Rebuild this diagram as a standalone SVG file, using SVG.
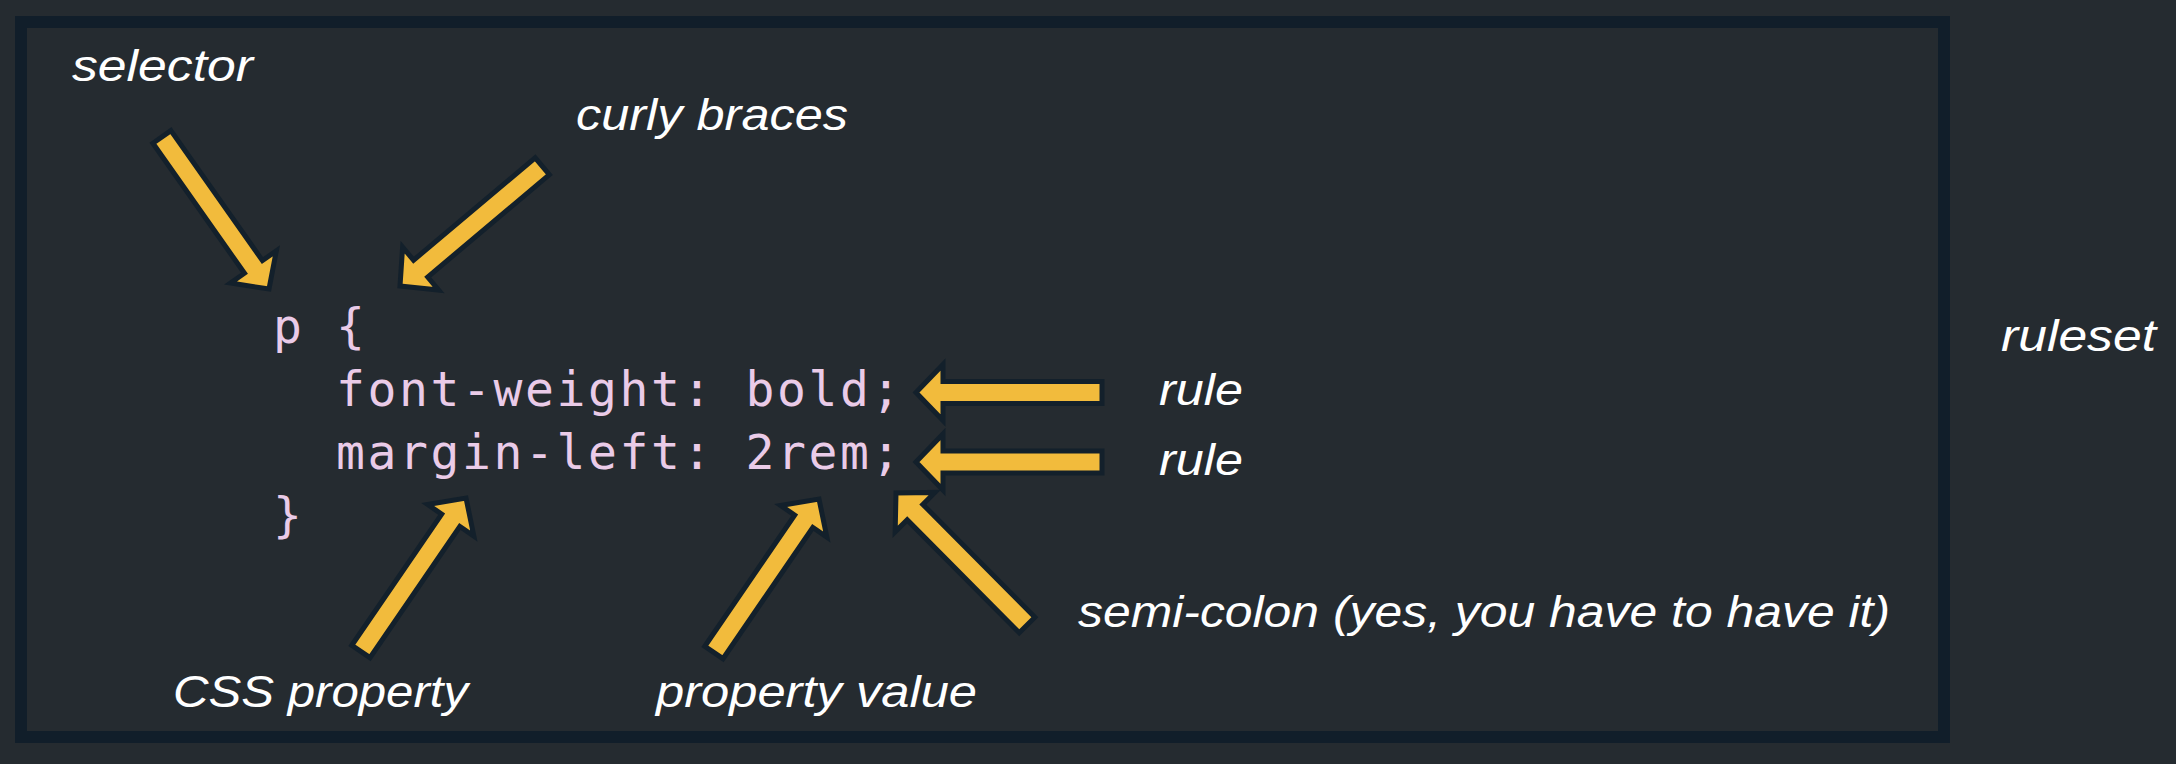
<svg xmlns="http://www.w3.org/2000/svg" xmlns:xlink="http://www.w3.org/1999/xlink" width="2176" height="764" viewBox="0 0 2176 764">
<style>
.lbl{font-family:"Liberation Sans",Arial,sans-serif;font-style:italic;font-size:44px;fill:#ffffff}
.code{font-family:"DejaVu Sans Mono","Liberation Mono",monospace;font-size:48px;letter-spacing:2.6px;fill:#eacbe8}
.arr{fill:#f2bb3c;stroke:#13202b;stroke-width:5;stroke-linejoin:miter}
</style>
<defs>
<polygon id="ar" points="-186,-11 -27,-11 -27,-28 0,0 -27,28 -27,11 -186,11"/>
</defs>
<rect width="2176" height="764" fill="#252b30"/>
<rect id="frame" x="21" y="22" width="1923" height="715" fill="none" stroke="#111e2a" stroke-width="12"/>
<g id="code">
<text class="code" x="273" y="343">p {</text>
<text class="code" x="336" y="406">font-weight: bold;</text>
<text class="code" x="336" y="469">margin-left: 2rem;</text>
<text class="code" x="273" y="532">}</text>
</g>
<g id="label-selector"><text class="lbl" x="72" y="81" textLength="181" lengthAdjust="spacingAndGlyphs">selector</text></g>
<g id="label-curly"><text class="lbl" x="576" y="130" textLength="272" lengthAdjust="spacingAndGlyphs">curly braces</text></g>
<g id="label-rule1"><text class="lbl" x="1159" y="405" textLength="84" lengthAdjust="spacingAndGlyphs">rule</text></g>
<g id="label-rule2"><text class="lbl" x="1159" y="475" textLength="84" lengthAdjust="spacingAndGlyphs">rule</text></g>
<g id="label-semicolon"><text class="lbl" x="1078" y="627" textLength="812" lengthAdjust="spacingAndGlyphs">semi-colon (yes, you have to have it)</text></g>
<g id="label-ruleset"><text class="lbl" x="2001" y="351" textLength="155" lengthAdjust="spacingAndGlyphs">ruleset</text></g>
<g id="label-property"><text class="lbl" x="173" y="707" textLength="295" lengthAdjust="spacingAndGlyphs">CSS property</text></g>
<g id="label-value"><text class="lbl" x="656" y="707" textLength="321" lengthAdjust="spacingAndGlyphs">property value</text></g>
<g id="connectors">
<use xlink:href="#ar" class="arr" transform="translate(269,289) rotate(54.85)"/>
<use xlink:href="#ar" class="arr" transform="translate(400,286) rotate(139.9)"/>
<use xlink:href="#ar" class="arr" transform="translate(916,392.5) rotate(180)"/>
<use xlink:href="#ar" class="arr" transform="translate(916,462) rotate(180)"/>
<use xlink:href="#ar" class="arr" transform="translate(896,493) rotate(-134.8)"/>
<use xlink:href="#ar" class="arr" transform="translate(466,498) rotate(-55.6)"/>
<use xlink:href="#ar" class="arr" transform="translate(819,499) rotate(-55.6)"/>
</g>
</svg>
